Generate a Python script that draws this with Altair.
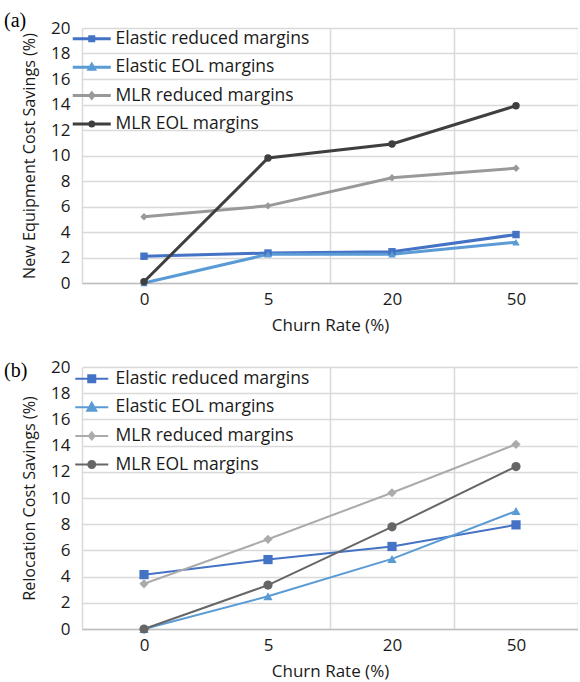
import altair as alt
import pandas as pd

churn = ["0", "5", "20", "50"]
series = ["Elastic reduced margins", "Elastic EOL margins", "MLR reduced margins", "MLR EOL margins"]

# panel (a) New equipment cost savings (%)
a_elastic_reduced = [2.1, 2.35, 2.45, 3.8]
a_elastic_eol = [0.0, 2.25, 2.25, 3.2]
a_mlr_reduced = [5.2, 6.05, 8.25, 9.0]
a_mlr_eol = [0.1, 9.8, 10.9, 13.9]

# panel (b) Relocation cost savings (%)
b_elastic_reduced = [4.15, 5.3, 6.3, 7.95]
b_elastic_eol = [0.0, 2.5, 5.35, 9.0]
b_mlr_reduced = [3.45, 6.85, 10.4, 14.1]
b_mlr_eol = [0.0, 3.35, 7.8, 12.4]

y_ticks = list(range(0, 21, 2))

colors_a = ["#4472C4", "#5B9BD5", "#999999", "#3F3F3F"]
colors_b = ["#4472C4", "#5B9BD5", "#ABABAB", "#666666"]
marker_shapes = ["square", "triangle-up", "diamond", "circle"]

FONT = "Open Sans"
TXT = "#1a1a1a"


def make_df(lists):
    rows = []
    for name, vals in zip(series, lists):
        for c, v in zip(churn, vals):
            rows.append({"churn": c, "series": name, "value": v})
    return pd.DataFrame(rows)


def sym_paths(half_line, sq, tri, dia, cir):
    line = f"M-{half_line},0H{half_line}"
    square = f"M-{sq},-{sq}H{sq}V{sq}H-{sq}Z"
    triangle = f"M0,-{tri}L{tri},{tri * 0.75}H-{tri}Z"
    diamond = f"M0,-{dia}L{dia * 0.8},0L0,{dia}L-{dia * 0.8},0Z"
    circle = f"M-{cir},0A{cir},{cir},0,1,0,{cir},0A{cir},{cir},0,1,0,-{cir},0Z"
    return [line + square, line + triangle, line + diamond, line + circle]


def panel(df, colors, ytitle, tag, line_w, mark_size, paths, height,
          legend_y, row_pad, title_dy):
    legend = alt.Legend(
        orient="none", legendX=1, legendY=legend_y, title=None,
        labelFont=FONT, labelFontSize=17.5, labelColor=TXT, labelLimit=400,
        symbolSize=100, labelOffset=15, rowPadding=row_pad, padding=0,
        symbolStrokeWidth=line_w, symbolOpacity=1,
    )
    x = alt.X(
        "churn:N", sort=churn,
        scale=alt.Scale(domain=churn, paddingInner=0, paddingOuter=0),
        axis=alt.Axis(
            title="Churn Rate (%)", labelAngle=0, ticks=False,
            domain=True, domainColor="#bfbfbf", domainWidth=1.5,
            grid=True, tickBand="extent", gridColor="#d9d9d9", gridWidth=1.5,
            gridOpacity=alt.condition("datum.index === 0", alt.value(0), alt.value(1)),
            labelPadding=8, titlePadding=10,
        ),
    )
    y = alt.Y(
        "value:Q",
        scale=alt.Scale(domain=[0, 20], nice=False),
        axis=alt.Axis(
            title=ytitle, values=y_ticks, domain=False, ticks=False,
            grid=True, gridColor="#d9d9d9", gridWidth=1.5,
            labelPadding=12, titlePadding=13, titleFontSize=16.2,
        ),
    )
    stroke = alt.Stroke("series:N", sort=series,
                        scale=alt.Scale(domain=series, range=colors), legend=legend)
    fill = alt.Fill("series:N", sort=series,
                    scale=alt.Scale(domain=series, range=colors), legend=legend)
    base = alt.Chart(df).encode(x=x, y=y)
    lines = base.mark_line(strokeWidth=line_w).encode(stroke=stroke)
    point_layers = [
        base.transform_filter(alt.datum.series == name)
        .mark_point(filled=True, size=mark_size, opacity=1, shape=shp)
        .encode(fill=fill)
        for name, shp in zip(series, marker_shapes)
    ]
    # legend-only layer (draws no rows): line + marker legend symbols
    legend_layer = (
        base.transform_filter("false")
        .mark_point(size=100, opacity=1, strokeWidth=line_w)
        .encode(
            fill=fill,
            stroke=stroke,
            shape=alt.Shape("series:N", sort=series,
                            scale=alt.Scale(domain=series, range=paths), legend=legend),
        )
    )
    return alt.layer(lines, *point_layers, legend_layer).properties(
        width=496, height=height,
        title=alt.Title(tag, anchor="start", frame="group", font="Liberation Serif",
                        fontSize=20, fontWeight="normal", color="black",
                        dx=-78, dy=title_dy, offset=0),
    )


df_a = make_df([a_elastic_reduced, a_elastic_eol, a_mlr_reduced, a_mlr_eol])
df_b = make_df([b_elastic_reduced, b_elastic_eol, b_mlr_reduced, b_mlr_eol])

pa = panel(df_a, colors_a, "New Equipment Cost Savings (%)", "(a)", 3, 55,
           sym_paths(3.8, 0.4, 0.55, 0.5, 0.4), 255, 2, 9.4, 12)
pb = panel(df_b, colors_b, "Relocation Cost Savings (%)", "(b)", 2, 85,
           sym_paths(3.3, 0.7, 0.9, 0.7, 0.7), 262, 3, 9.6, 23)

chart = (
    alt.vconcat(pa, pb, spacing=84, bounds="flush")
    .resolve_scale(shape="independent", fill="independent", stroke="independent")
    .resolve_legend(shape="independent", fill="independent", stroke="independent")
    .configure_view(stroke=None)
    .configure_axis(labelFont=FONT, titleFont=FONT, labelFontSize=17, titleFontSize=17,
                    labelColor=TXT, titleColor=TXT, titleFontWeight="normal")
    .properties(padding={"left": 4, "top": 11, "right": 0, "bottom": 5})
)

chart.save("out.html", embed_options={"renderer": "svg", "actions": False})
